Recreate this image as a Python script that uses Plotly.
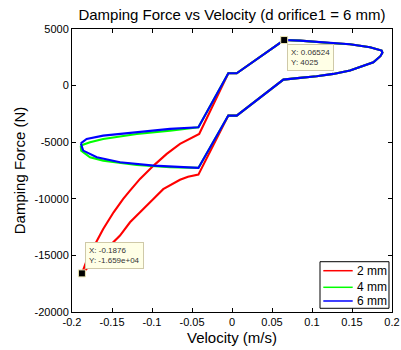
import plotly.graph_objects as go

# ---- data ----
series_names = ["2 mm", "4 mm", "6 mm"]
series_colors = ["#FF0000", "#00FF00", "#0000FF"]

# right-hand part of the loops (shared shape, drawn in all three series)
v_right = [-0.0046, 0.0059, 0.065, 0.085, 0.1267, 0.1475, 0.1725, 0.187, 0.1880, 0.1855,
           0.1767, 0.1642, 0.1475, 0.1267, 0.1058, 0.085, 0.0642, 0.0059, -0.0046]
f_right = [1087, 1087, 4025, 3975, 3737, 3650, 3384, 3092, 2900, 2600,
           2058, 1767, 1325, 1033, 822, 680, 530, -2650, -2650]

# 2 mm: left part (upper branch from tip, lower branch back to tip)
v_2mm_up = [-0.1876, -0.1817, -0.171, -0.161, -0.148, -0.136, -0.1275, -0.115, -0.098,
            -0.0816, -0.065, -0.05, -0.041]
f_2mm_up = [-16590, -15460, -13984, -12660, -11190, -10000, -9276, -8242, -7067,
            -6034, -5150, -4600, -4270]
v_2mm_lo = [-0.042, -0.055, -0.065, -0.076, -0.086, -0.098, -0.111, -0.1275, -0.14,
            -0.1525, -0.165, -0.178, -0.1876]
f_2mm_lo = [-7862, -8050, -8320, -8720, -9150, -10000, -10893, -12076, -13250,
            -14134, -15000, -15900, -16590]

# 4 mm: left part
v_4mm_up = [-0.1890, -0.1775, -0.161, -0.119, -0.0775, -0.042]
f_4mm_up = [-5300, -5010, -4710, -4270, -3975, -3680]
v_4mm_lo = [-0.042, -0.0775, -0.119, -0.161, -0.1775, -0.1885, -0.1890]
f_4mm_lo = [-7270, -7217, -7005, -6626, -6334, -5742, -5300]

# 6 mm: left part
v_6mm_up = [-0.1890, -0.1817, -0.161, -0.119, -0.0775, -0.042]
f_6mm_up = [-5100, -4710, -4417, -4125, -3825, -3680]
v_6mm_lo = [-0.042, -0.098, -0.14, -0.169, -0.186, -0.1890]
f_6mm_lo = [-7270, -7067, -6775, -6334, -5742, -5100]

# data tips
tip_v = [0.06524, -0.1876]
tip_f = [4025, -16590]
tip_text = ["X: 0.06524<br>Y: 4025", "X: -0.1876<br>Y: -1.659e+04"]

x_ticks = [-0.2, -0.15, -0.1, -0.05, 0, 0.05, 0.1, 0.15, 0.2]
x_tick_labels = ["-0.2", "-0.15", "-0.1", "-0.05", "0", "0.05", "0.1", "0.15", "0.2"]
y_ticks = [-20000, -15000, -10000, -5000, 0, 5000]
y_tick_labels = ["-20000", "-15000", "-10000", "-5000", "0", "5000"]

FONT = "Liberation Sans, Arial, sans-serif"

loops = [
    (v_2mm_up + v_right + v_2mm_lo, f_2mm_up + f_right + f_2mm_lo),
    (v_4mm_up + v_right + v_4mm_lo, f_4mm_up + f_right + f_4mm_lo),
    (v_6mm_up + v_right + v_6mm_lo, f_6mm_up + f_right + f_6mm_lo),
]

fig = go.Figure()
for name, col, (vx, fy) in zip(series_names, series_colors, loops):
    fig.add_trace(go.Scatter(x=vx, y=fy, mode="lines", name=name, showlegend=False,
                             line=dict(color=col, width=2.1)))

fig.add_trace(go.Scatter(x=tip_v, y=tip_f, mode="markers", showlegend=False,
                         marker=dict(symbol="square", size=7, color="black",
                                     line=dict(color="#EDE7B5", width=1))))

# datatip boxes: first one lower-right of its marker, second one upper-right
tip_anchor = [("top", -4), ("bottom", 4)]
for vx, fy, txt, (ya, ys) in zip(tip_v, tip_f, tip_text, tip_anchor):
    fig.add_annotation(x=vx, y=fy, text=txt, showarrow=False, xanchor="left", yanchor=ya,
                       xshift=3, yshift=ys, align="left",
                       font=dict(family=FONT, size=8, color="#333333"),
                       bgcolor="#FFFFE6", bordercolor="#CFC9A8", borderwidth=1, borderpad=3)

# legend box (MATLAB style), in paper coordinates of the plot area
fig.add_shape(type="rect", xref="paper", yref="paper", x0=0.775, x1=0.9906, y0=0.0131, y1=0.1777,
              line=dict(color="black", width=1), fillcolor="white", layer="above")
legend_rows = [0.1459, 0.0873, 0.0389]
for name, col, yr in zip(series_names, series_colors, legend_rows):
    fig.add_shape(type="line", xref="paper", yref="paper", x0=0.7853, x1=0.8772, y0=yr, y1=yr,
                  line=dict(color=col, width=1.5), layer="above")
    fig.add_annotation(xref="paper", yref="paper", x=0.8844, y=yr, text=name, showarrow=False,
                       xanchor="left", yanchor="middle",
                       font=dict(family=FONT, size=12, color="black"))

fig.update_layout(
    template="none",
    width=401, height=350,
    margin=dict(l=72, r=9, t=29, b=38, autoexpand=False),
    paper_bgcolor="white", plot_bgcolor="white",
    font=dict(family=FONT, size=11, color="black"),
    showlegend=False,
    title=dict(text="Damping Force vs Velocity (d orifice1 = 6 mm)", x=0.5, xref="paper",
               y=1 - 15 / 350, yref="container", yanchor="middle", xanchor="center",
               font=dict(family=FONT, size=15, color="black")),
)
fig.update_xaxes(range=[-0.2, 0.2], tickvals=x_ticks, ticktext=x_tick_labels, automargin=False,
                 showgrid=False, zeroline=False, showline=True, linecolor="black",
                 linewidth=1, mirror="ticks", ticks="inside", ticklen=4, tickcolor="black",
                 title=dict(text="Velocity (m/s)", font=dict(family=FONT, size=15), standoff=5))
fig.update_yaxes(range=[-20000, 5000], tickvals=y_ticks, ticktext=y_tick_labels, automargin=False,
                 showgrid=False, zeroline=False, showline=True, linecolor="black",
                 linewidth=1, mirror="ticks", ticks="inside", ticklen=4, tickcolor="black",
                 title=dict(text="Damping Force (N)", font=dict(family=FONT, size=15), standoff=5))

fig.write_html("out.html")
